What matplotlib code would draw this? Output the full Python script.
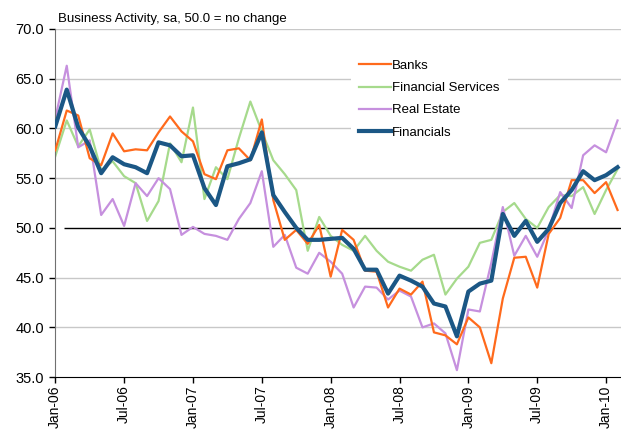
import matplotlib.pyplot as plt
import numpy as np

plt.rcParams['font.family'] = ['Liberation Sans', 'DejaVu Sans']

# monthly, Jan-06 .. Feb-10
months = np.arange(50)
tick_pos = np.arange(0, 50, 6)
tick_labels = ['Jan-06', 'Jul-06', 'Jan-07', 'Jul-07', 'Jan-08',
               'Jul-08', 'Jan-09', 'Jul-09', 'Jan-10']

banks = [57.8, 61.8, 61.3, 57.0, 56.3, 59.5, 57.7, 57.9, 57.8, 59.6,
         61.2, 59.7, 58.7, 55.4, 54.9, 57.8, 58.0, 56.8, 60.9, 52.8,
         48.8, 49.8, 48.4, 50.3, 45.1, 49.8, 48.8, 45.7, 45.6, 42.0,
         43.9, 43.3, 44.6, 39.5, 39.2, 38.3, 41.0, 40.0, 36.4, 42.9,
         47.0, 47.1, 44.0, 49.4, 51.0, 54.8, 54.8, 53.5, 54.6, 51.8]

fin_services = [57.2, 60.8, 58.2, 59.9, 55.8, 56.7, 55.2, 54.5, 50.7, 52.7,
                58.5, 56.6, 62.1, 52.9, 56.1, 54.9, 59.0, 62.7, 59.7, 56.8,
                55.4, 53.8, 47.7, 51.1, 49.2, 48.3, 47.7, 49.2, 47.7, 46.6,
                46.1, 45.7, 46.8, 47.3, 43.3, 44.9, 46.1, 48.5, 48.8, 51.6,
                52.5, 50.9, 50.0, 52.1, 53.3, 53.2, 54.1, 51.4, 53.8, 55.9]

real_estate = [61.0, 66.3, 58.1, 58.8, 51.3, 52.9, 50.2, 54.5, 53.2, 55.0,
               53.9, 49.3, 50.1, 49.4, 49.2, 48.8, 50.9, 52.5, 55.7, 48.1,
               49.3, 46.0, 45.4, 47.5, 46.6, 45.4, 42.0, 44.1, 44.0, 42.8,
               43.7, 43.1, 40.0, 40.4, 39.4, 35.7, 41.8, 41.6, 46.5, 52.1,
               47.2, 49.2, 47.1, 49.8, 53.6, 52.0, 57.3, 58.3, 57.6, 60.8]

financials = [60.2, 63.9, 60.1, 58.2, 55.5, 57.1, 56.4, 56.1, 55.5, 58.6,
              58.3, 57.2, 57.3, 54.0, 52.3, 56.2, 56.5, 56.9, 59.6, 53.3,
              51.6, 50.0, 48.8, 48.8, 48.9, 49.0, 47.9, 45.8, 45.8, 43.4,
              45.2, 44.7, 44.1, 42.4, 42.1, 39.1, 43.6, 44.4, 44.7, 51.4,
              49.2, 50.7, 48.6, 49.9, 52.5, 53.8, 55.7, 54.8, 55.3, 56.1]

fig = plt.figure(figsize=(6.21, 4.32), dpi=100)
ax = fig.add_axes([0.089, 0.127, 0.911, 0.806])

# gridlines and the 50 = no change line
for v in [40, 45, 55, 60, 65, 70]:
    ax.axhline(v, color='#c8c8c8', lw=1.0, zorder=0)
ax.hlines(50, 0.8, 49.3, color='black', lw=1.0, zorder=1)

ax.plot(months, banks, color='#ff6a1c', lw=1.6, label='Banks', zorder=3)
ax.plot(months, fin_services, color='#a6da8c', lw=1.6, label='Financial Services', zorder=2)
ax.plot(months, real_estate, color='#c690de', lw=1.6, label='Real Estate', zorder=2)
ax.plot(months, financials, color='#1b5785', lw=3.0, label='Financials', zorder=4)

ax.set_xlim(0, 49.3)
ax.set_ylim(35, 70)
ax.set_yticks(np.arange(35, 71, 5))
ax.set_yticklabels([f'{v:.1f}' for v in np.arange(35, 71, 5)], fontsize=10.5)
ax.set_xticks(tick_pos)
ax.set_xticklabels(tick_labels, rotation=90, fontsize=10)
ax.tick_params(direction='out', length=4, width=1, pad=2)
ax.tick_params(axis='y', pad=4)

for s in ['top', 'right']:
    ax.spines[s].set_visible(False)
ax.spines['left'].set_color('#707070')
ax.spines['bottom'].set_color('black')

fig.text(0.093, 0.957, 'Business Activity, sa, 50.0 = no change', fontsize=9.5, va='center')

leg = ax.legend(loc='upper left', bbox_to_anchor=(0.555, 0.895), bbox_transform=fig.transFigure,
                frameon=True, fontsize=9.5, handlelength=2.4, handletextpad=0.1,
                labelspacing=0.75, borderpad=0.6)
leg.get_frame().set_edgecolor('none')
leg.get_frame().set_facecolor('white')
leg.get_frame().set_alpha(1)

fig.savefig('out.png', dpi=100)
